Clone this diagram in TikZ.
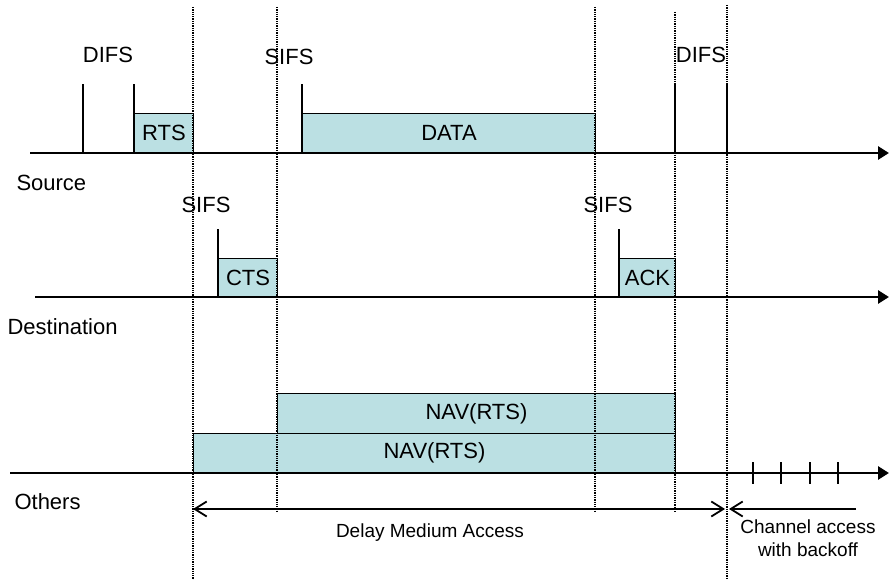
\documentclass[tikz,border=0pt]{standalone}
\usepackage{fontspec}
\setmainfont{Liberation Sans}
\usetikzlibrary{arrows.meta}
\tikzset{>=Latex}
\definecolor{slotfill}{RGB}{187,224,227}

\begin{document}
\begin{tikzpicture}[x=1pt, y=-1pt,
    font=\fontsize{22}{26}\selectfont,
    axis/.style={line width=2.8pt, -{Triangle[length=11pt,width=13pt]}},
    guide/.style={densely dotted, line width=1.3pt},
    tickline/.style={line width=1.2pt},
    slot/.style={draw, line width=1pt, fill=slotfill, inner sep=0pt,
                 anchor=south west, minimum height=39pt},
    span/.style={line width=1.8pt, {Straight Barb[length=12pt,width=15pt]}-{Straight Barb[length=12pt,width=15pt]}},
    small/.style={font=\fontsize{19}{23}\selectfont}]
    \useasboundingbox (0,0) rectangle (889,580);

    % slots on the three stations
    \node[slot, minimum width=59pt] (rts) at (134,153) {RTS};
    \node[slot, minimum width=293pt] (data) at (302,153) {DATA};
    \node[slot, minimum width=59pt, minimum height=38pt] (cts) at (218,297) {CTS};
    \node[slot, minimum width=56pt, minimum height=38pt] (ack) at (619,297) {ACK};
    \node[slot, minimum width=482pt] (navlow) at (193,473) {NAV(RTS)};
    \node[slot, minimum width=398pt, minimum height=40pt] (navup) at (277,434) {NAV(RTS)};

    % time axes
    \coordinate (src0) at (30,153);  \coordinate (src1) at (889,153);
    \coordinate (dst0) at (35,297);  \coordinate (dst1) at (889,297);
    \coordinate (oth0) at (10,473);  \coordinate (oth1) at (889,473);
    \draw[axis] (src0) -- (src1);
    \draw[axis] (dst0) -- (dst1);
    \draw[axis] (oth0) -- (oth1);

    % markers
    \foreach \x in {83,134,302,675,727}
        \draw[tickline] (\x,153) -- (\x,84);
    \foreach \x in {218,619}
        \draw[tickline] (\x,297) -- (\x,229);
    \foreach \x in {753,781,810,838}
        \draw[tickline] (\x,462) -- (\x,484);

    % dotted guides
    \foreach \x/\t/\b in {193/7/580, 277/7/512, 595/7/512, 675/12/512, 727/5/580}
        \draw[guide] (\x,\t) -- (\x,\b);

    % labels
    \node (difsA) at (108,55) {DIFS};
    \node (sifsA) at (289,57) {SIFS};
    \node (difsB) at (701,55) {DIFS};
    \node (sifsB) at (206,205) {SIFS};
    \node (sifsC) at (608,205) {SIFS};
    \node[anchor=west] (src) at (13,183) {Source};
    \node[anchor=west] (dst) at (4,327) {Destination};
    \node[anchor=west] (oth) at (11,502) {Others};

    % access periods
    \coordinate (dmaL) at (193,509); \coordinate (dmaR) at (725,509);
    \coordinate (chaL) at (729,509); \coordinate (chaR) at (856,509);
    \draw[span] (dmaL) -- (dmaR);
    \draw[line width=1.8pt, -{Straight Barb[length=12pt,width=15pt]}] (chaR) -- (chaL);
    \node[small] (dma) at (430,533) {Delay Medium Access};
    \node[small, align=center] (cha) at (808,538) {Channel access\\with backoff};
\end{tikzpicture}
\end{document}
